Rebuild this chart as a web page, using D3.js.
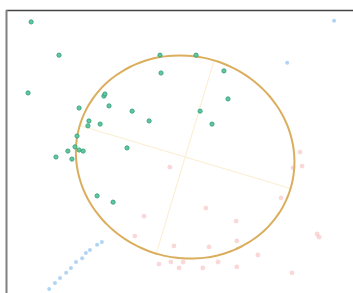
<!DOCTYPE html>
<html>
<head>
<meta charset="utf-8">
<script src="https://d3js.org/d3.v7.min.js"></script>
<style>
body {margin:0; background:white;}
</style>
</head>
<body>
<svg id="chart" width="353" height="293"></svg>
<script>
// group A (green)
var greenX = [0.71,1.53,0.62,4.50,4.53,2.85,2.12,3.00,3.68,4.18,2.41,2.38,2.74,2.06,2.00,3.53,5.56,6.38,6.50,5.68,6.03,1.79,2.12,2.24,1.44,1.91,2.65,3.12,2.88];
var greenY = [7.66,6.71,5.63,6.71,6.20,5.54,5.20,5.26,5.11,4.83,4.83,4.69,4.74,4.40,4.09,4.06,6.71,6.26,5.46,5.11,4.74,3.97,4.00,3.97,3.80,3.74,2.69,2.51,5.60];
// group B (red, faded)
var redX = [4.79,4.03,3.76,4.91,4.47,4.82,5.06,5.18,8.62,8.68,8.41,8.06,5.85,6.74,6.76,5.94,7.38,6.21,6.76,5.76,9.12,9.18,8.38];
var redY = [3.51,2.11,1.54,1.26,0.74,0.80,0.63,0.80,3.94,3.54,3.49,2.63,2.34,1.97,1.40,1.23,1.00,0.80,0.66,0.63,1.60,1.51,0.49];
// group C (blue, faded)
var blueX = [9.62,8.24,2.79,2.65,2.44,2.32,2.21,2.03,1.88,1.74,1.56,1.41,1.24];
var blueY = [7.69,6.49,1.37,1.29,1.14,1.06,0.91,0.80,0.63,0.49,0.34,0.20,0.03];
// fitted ellipse: centre and the two half-axis vectors
var ellCenter = [5.24, 3.80];
var ellMajor = [3.10, -0.90];
var ellMinor = [-0.85, -2.76];

var svg = d3.select("#chart");
var x = d3.scaleLinear().domain([0, 10]).range([7, 347]);
var y = d3.scaleLinear().domain([0, 8]).range([290, 10]);

function pts(xs, ys) {
  return xs.map(function(v, i) { return {x: v, y: ys[i]}; });
}

// frame (only top and left visible in window)
svg.append("line").attr("x1", 6).attr("y1", 10.5).attr("x2", 353).attr("y2", 10.5)
  .attr("stroke", "#444").attr("stroke-width", 1.5);
svg.append("line").attr("x1", 6.5).attr("y1", 10).attr("x2", 6.5).attr("y2", 293)
  .attr("stroke", "#808080").attr("stroke-width", 2);

// axis lines of the ellipse
var axes = [ellMajor, ellMinor];
svg.selectAll(".ax").data(axes).enter().append("line")
  .attr("x1", function(d) { return x(ellCenter[0] - d[0]); })
  .attr("y1", function(d) { return y(ellCenter[1] - d[1]); })
  .attr("x2", function(d) { return x(ellCenter[0] + d[0]); })
  .attr("y2", function(d) { return y(ellCenter[1] + d[1]); })
  .attr("stroke", "#fbedcf").attr("stroke-width", 1);

svg.selectAll(".red").data(pts(redX, redY)).enter().append("circle")
  .attr("cx", function(d) { return x(d.x); })
  .attr("cy", function(d) { return y(d.y); })
  .attr("r", 2.4)
  .attr("fill", "#f28a8a").attr("opacity", 0.33);

svg.selectAll(".blue").data(pts(blueX, blueY)).enter().append("circle")
  .attr("cx", function(d) { return x(d.x); })
  .attr("cy", function(d) { return y(d.y); })
  .attr("r", 2)
  .attr("fill", "#86bdec").attr("opacity", 0.65);

// ellipse outline
var ts = d3.range(0, 361, 4).map(function(a) { return a * Math.PI / 180; });
var ell = d3.line()
  .x(function(t) { return x(ellCenter[0] + ellMajor[0]*Math.cos(t) + ellMinor[0]*Math.sin(t)); })
  .y(function(t) { return y(ellCenter[1] + ellMajor[1]*Math.cos(t) + ellMinor[1]*Math.sin(t)); })
  .curve(d3.curveCardinalClosed);
svg.append("path").attr("d", ell(ts.slice(0, -1)))
  .attr("fill", "none").attr("stroke", "#dbae5e").attr("stroke-width", 2);

svg.selectAll(".green").data(pts(greenX, greenY)).enter().append("circle")
  .attr("cx", function(d) { return x(d.x); })
  .attr("cy", function(d) { return y(d.y); })
  .attr("r", 2.1)
  .attr("fill", "#62c79e").attr("stroke", "#34a27a").attr("stroke-width", 0.9);
</script>
</body>
</html>
